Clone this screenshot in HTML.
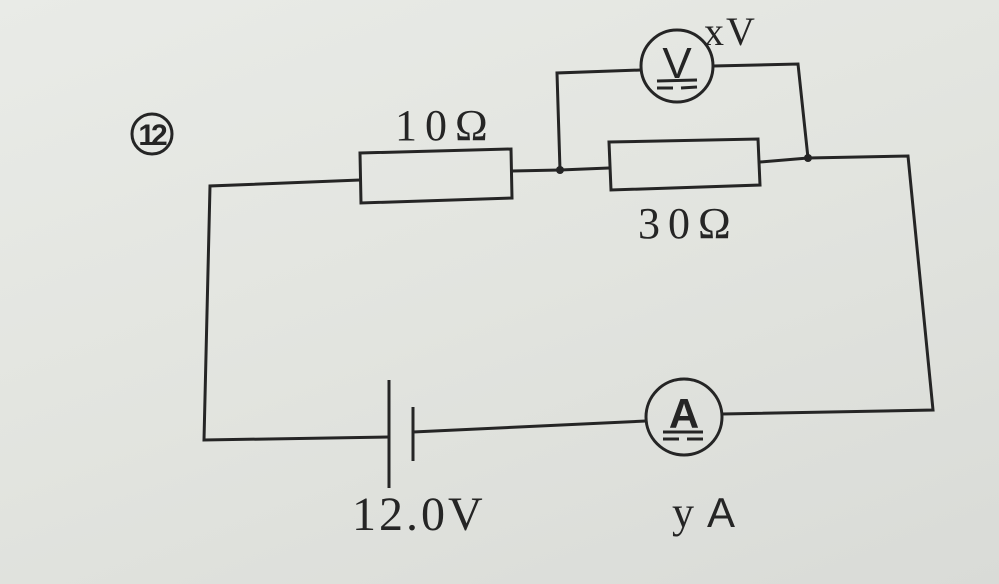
<!DOCTYPE html>
<html><head><style>
html,body{margin:0;padding:0;}
body{width:999px;height:584px;overflow:hidden;background:linear-gradient(160deg,#e9ebe7 0%,#e2e4df 50%,#d9dbd7 100%);}
svg{display:block;}
text{font-family:"Liberation Serif",serif;fill:#252525;}
</style></head><body>
<svg width="999" height="584" viewBox="0 0 999 584" xmlns="http://www.w3.org/2000/svg">
<g stroke="#252525" stroke-width="3" fill="none" stroke-linejoin="miter">
<polyline points="360,180 210,186 204,440 389,437"/>
<polygon points="360,153 511,149 512,198 361,203"/>
<polyline points="512,171 560,170 609,168"/>
<polygon points="609,142 758,139 760,185 611,190"/>
<polyline points="760,162 808,158 908,156 933,410 722,414"/>
<polyline points="646,421 413,432"/>
<line x1="389" y1="380" x2="389" y2="488"/>
<line x1="413" y1="407" x2="413" y2="461"/>
<polyline points="560,170 557,73 641,70"/>
<polyline points="713,66 798,64 808,158"/>
<circle cx="677" cy="66" r="36"/>
<circle cx="684" cy="417" r="38"/>
<circle cx="152" cy="134" r="20" stroke-width="3"/>
</g>
<circle cx="560" cy="170" r="4" fill="#252525"/>
<circle cx="808" cy="158" r="4" fill="#252525"/>
<g stroke="#252525" stroke-width="3">
<line x1="657" y1="81" x2="697" y2="80"/>
<line x1="657" y1="88" x2="673" y2="88"/>
<line x1="681" y1="88" x2="697" y2="87"/>
<line x1="663" y1="432" x2="703" y2="432"/>
<line x1="663" y1="439" x2="679" y2="439"/>
<line x1="687" y1="439" x2="703" y2="439"/>
</g>
<text x="677" y="78" font-size="44" text-anchor="middle" style="font-family:'Liberation Sans',sans-serif">V</text>
<text x="684" y="428" font-size="42" text-anchor="middle" font-weight="bold" style="font-family:'Liberation Sans',sans-serif">A</text>
<text x="151" y="145" font-size="30" text-anchor="middle" font-weight="bold" style="font-family:'Liberation Sans',sans-serif" letter-spacing="-4">12</text>
<text x="395" y="140" font-size="44" letter-spacing="8">10Ω</text>
<text x="638" y="238" font-size="44" letter-spacing="8">30Ω</text>
<text x="704" y="45" font-size="40" letter-spacing="2">xV</text>
<text x="352" y="530" font-size="48" letter-spacing="3">12.0V</text>
<text x="672" y="527" font-size="44">y</text>
<text x="707" y="527" font-size="42" style="font-family:'Liberation Sans',sans-serif">A</text>
</svg>
</body></html>
